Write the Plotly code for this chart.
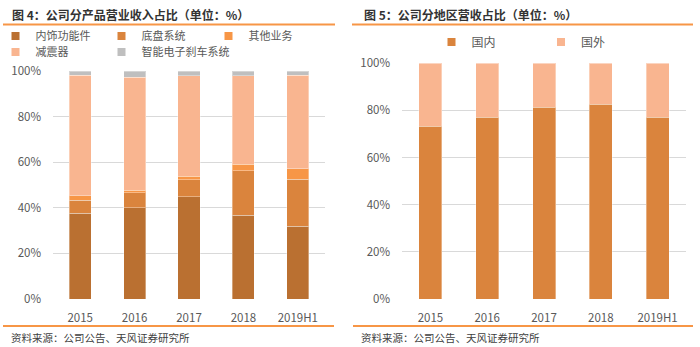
import plotly.graph_objects as go

years = ["2015", "2016", "2017", "2018", "2019H1"]

# 图4 公司分产品营业收入占比 (%)
prod_names = ["内饰功能件", "底盘系统", "其他业务", "减震器", "智能电子刹车系统"]
interior = [37.6, 40.1, 44.9, 36.7, 32.0]
chassis = [5.8, 6.5, 7.3, 19.6, 20.5]
other = [1.8, 1.2, 1.7, 2.8, 4.7]
shock = [53.0, 49.4, 44.1, 38.9, 41.0]
brake = [1.8, 2.8, 2.0, 2.0, 1.8]
prod_values = [interior, chassis, other, shock, brake]
prod_colors = ["#BA7031", "#DA843D", "#F79646", "#F9B590", "#BFBFBF"]

# 图5 公司分地区营收占比 (%)
region_names = ["国内", "国外"]
domestic = [73.4, 77.2, 81.3, 82.7, 77.2]
overseas = [26.6, 22.8, 18.7, 17.3, 22.8]
region_values = [domestic, overseas]
region_colors = ["#DA843D", "#F9B590"]

W, H = 700, 347
CJK = "Noto Sans CJK SC"
NUM = "Noto Sans CJK SC"
GRAY = "#595959"

def px(x):
    return x / W

def py(y):
    return (H - y) / H

# legend symbol centre positions (px) for each entry
prod_leg_pos = [(20.5, 36), (126.5, 36), (233.5, 36), (20.5, 52), (126.5, 52)]
region_leg_pos = [(456.5, 42), (566, 42)]
SHIFT = 25  # legend box left edge -> symbol centre (+ small compromise)

fig = go.Figure()
layout_legends = {}
leg_idx = 1

def leg_name(i):
    return "legend" if i == 1 else "legend%d" % i

def add_legend(pos, size):
    global leg_idx
    name = leg_name(leg_idx)
    layout_legends[name] = dict(
        x=px(pos[0] - SHIFT), y=py(pos[1]), xanchor="left", yanchor="middle",
        orientation="h", bgcolor="rgba(0,0,0,0)", borderwidth=0,
        font=dict(family=CJK, size=size, color=GRAY),
        itemclick=False, itemdoubleclick=False)
    leg_idx += 1
    return name

for name, vals, col, pos in zip(prod_names, prod_values, prod_colors, prod_leg_pos):
    fig.add_trace(go.Bar(x=years, y=vals, name=name, marker_color=col,
                         marker_line=dict(color="rgba(255,255,255,0.35)", width=1),
                         xaxis="x", yaxis="y", showlegend=False))
    lg = add_legend(pos, 11)
    fig.add_trace(go.Scatter(x=[None], y=[None], mode="markers", name=name,
                             marker=dict(symbol="square", size=8, color=col),
                             xaxis="x", yaxis="y", legend=lg))

for name, vals, col, pos in zip(region_names, region_values, region_colors, region_leg_pos):
    fig.add_trace(go.Bar(x=years, y=vals, name=name, marker_color=col,
                         marker_line=dict(color="rgba(255,255,255,0.35)", width=1),
                         xaxis="x2", yaxis="y2", showlegend=False))
    lg = add_legend(pos, 12)
    fig.add_trace(go.Scatter(x=[None], y=[None], mode="markers", name=name,
                             marker=dict(symbol="square", size=8, color=col),
                             xaxis="x2", yaxis="y2", legend=lg))

axis_common = dict(
    showgrid=False, showline=False, zeroline=False, ticks="",
    tickfont=dict(family=NUM, size=11.5, color=GRAY), fixedrange=True,
    ticklabelstandoff=10,
)
yaxis_common = dict(
    range=[0, 100], dtick=20, ticksuffix="%", showgrid=True, gridcolor="#D9D9D9",
    gridwidth=1, zeroline=False, showline=False, ticks="", fixedrange=True,
    tickfont=dict(family=NUM, size=11.5, color=GRAY), ticklabelstandoff=11,
)

fig.update_layout(
    width=W, height=H, margin=dict(l=0, r=0, t=0, b=0, autoexpand=False),
    paper_bgcolor="white", plot_bgcolor="white",
    barmode="stack", bargap=0.595,
    font=dict(family=CJK, color=GRAY),
    xaxis=dict(domain=[px(53), px(325)], anchor="y", **axis_common),
    yaxis=dict(domain=[py(299), py(71)], anchor="x", **yaxis_common),
    xaxis2=dict(domain=[px(402), px(686)], anchor="y2", **axis_common),
    yaxis2=dict(domain=[py(299), py(63.3)], anchor="x2", **yaxis_common),
    **layout_legends,
)

# title + source annotations
titles = [("图 4：公司分产品营业收入占比（单位：%）", 10), ("图 5：公司分地区营收占比（单位：%）", 362)]
for text, x in titles:
    fig.add_annotation(text="<b>" + text + "</b>", x=px(x), y=py(15), xref="paper", yref="paper",
                       xanchor="left", yanchor="middle", showarrow=False,
                       font=dict(family=CJK, size=12, color="#333333"))
for x in (9, 359):
    fig.add_annotation(text="资料来源：公司公告、天风证券研究所", x=px(x), y=py(337.5),
                       xref="paper", yref="paper", xanchor="left", yanchor="middle",
                       showarrow=False, font=dict(family=CJK, size=10.5, color="#404040"))

# orange rules
for (x0, x1, y) in [(3, 335, 24.5), (352, 693, 24.5), (3, 334, 326), (353, 693, 326)]:
    fig.add_shape(type="line", x0=px(x0), x1=px(x1), y0=py(y), y1=py(y), xref="paper", yref="paper",
                  line=dict(color="#F79646", width=2))

fig.write_html("out.html")
